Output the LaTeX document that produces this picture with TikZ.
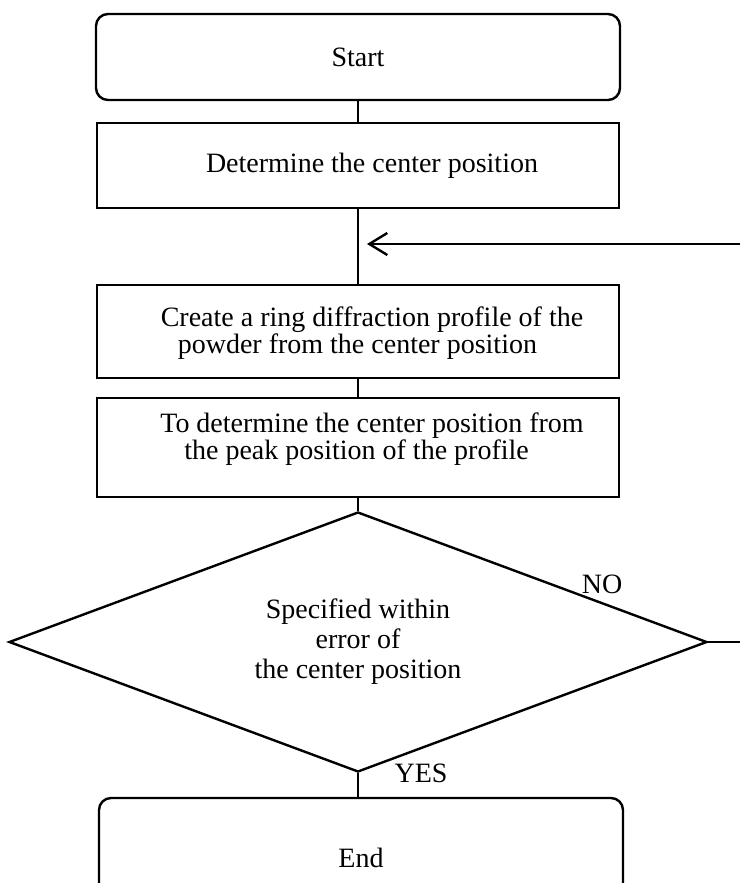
\documentclass[tikz,border=0pt]{standalone}
\usepackage{fontspec}
\setmainfont{Liberation Serif}
\usetikzlibrary{arrows.meta, positioning, shapes.geometric}

\begin{document}
\begin{tikzpicture}[
  x=1pt, y=-1pt,
  every node/.style={font=\fontsize{28}{27}\selectfont},
  line/.style={line width=2.4pt},
  termbox/.style={rectangle, rounded corners=12pt, draw, line width=2.4pt, minimum width=524pt, minimum height=86pt, inner sep=0pt},
  procbox/.style={rectangle, draw, line width=2.4pt, minimum width=522pt, minimum height=100pt, inner sep=0pt},
  checkbox/.style={diamond, draw, line width=2.4pt, aspect=2.7, minimum width=698pt, minimum height=260pt, inner sep=0pt},
  boxtext/.style={align=left, inner sep=0pt},
]
\useasboundingbox (0,0) rectangle (740,883);

% Flow boxes
\node[termbox] (start) at (358, 57) {Start};
\node[procbox, minimum height=85pt] (center) at (358, 165.5) {};
\node[procbox, minimum height=93pt] (profile) at (358, 331.5) {};
\node[procbox, minimum height=99pt] (peak) at (358, 447.5) {};
\node[checkbox] (check) at (358, 642) {};
\node[termbox, minimum height=120pt] (finish) at (361, 858) {End};

% Box texts
\node[boxtext] (centertext) at (372, 166) {Determine the center position};
\node[boxtext] (profiletext) at (372, 333) {Create a ring diffraction profile of the\\ \hspace*{17pt}powder from the center position};
\node[boxtext] (peaktext) at (372, 439) {To determine the center position from\\ \hspace*{24pt}the peak position of the profile};
\node[align=center, font=\fontsize{28}{30}\selectfont] (checktext) at (check) {Specified within\\error of\\the center position};
\node (no) at (602, 584) {NO};
\node (yes) at (421, 773) {YES};

% Connectors
\coordinate (back) at (740, 244);
\coordinate (join) at (358, 244);
\coordinate (noend) at (740, 642);

\draw[line] (start) -- (center);
\draw[line] (center) -- (profile);
\draw[line] (profile) -- (peak);
\draw[line] (peak) -- (check);
\draw[line] (check.south) -- (check.south |- finish.north);
\draw[line] (check.east) -- (noend);
\draw[line, -{Straight Barb[length=18pt, width=22pt, line width=2.4pt]}, shorten >=9pt] (back) -- (join);
\end{tikzpicture}
\end{document}
